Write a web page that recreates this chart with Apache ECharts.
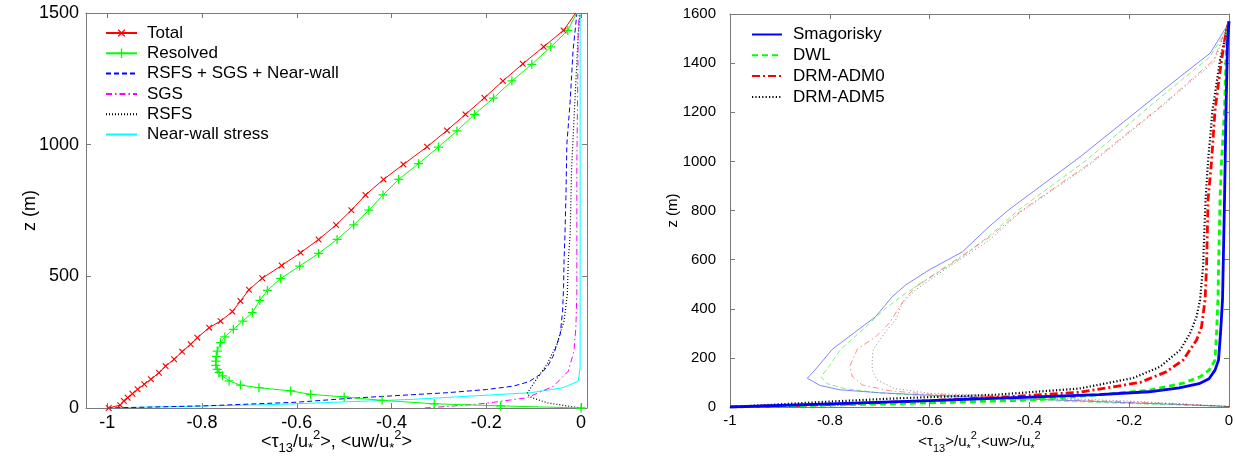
<!DOCTYPE html>
<html>
<head>
<meta charset="utf-8">
<script src="https://cdn.jsdelivr.net/npm/echarts@6/dist/echarts.min.js"></script>
<style>html,body{margin:0;padding:0;background:#fff}#c{width:1236px;height:456px}</style>
</head>
<body>
<div id="c"></div>
<script>
// ---------- LEFT PANEL DATA: [stress, z (m)] ----------
const leftTotal = [[-0.997,0],[-0.973,11],[-0.965,27],[-0.957,39],[-0.947,54],[-0.936,71],[-0.922,90],[-0.908,109],[-0.891,134],[-0.877,159],[-0.859,185],[-0.842,214],[-0.824,242],[-0.81,267],[-0.785,305],[-0.761,330],[-0.736,366],[-0.719,406],[-0.701,449],[-0.673,493],[-0.632,541],[-0.592,590],[-0.554,640],[-0.517,695],[-0.485,751],[-0.455,809],[-0.417,868],[-0.375,925],[-0.325,992],[-0.283,1054],[-0.244,1115],[-0.204,1178],[-0.165,1242],[-0.123,1307],[-0.079,1372],[-0.037,1434],[-0.011,1501]];
const leftResolved = [[0,0],[-0.17,8],[-0.31,16],[-0.42,29],[-0.50,42],[-0.571,52],[-0.613,65],[-0.68,77],[-0.719,87],[-0.743,103],[-0.757,122],[-0.764,135],[-0.768,147],[-0.771,162],[-0.771,178],[-0.770,196],[-0.768,216],[-0.761,248],[-0.752,270],[-0.734,299],[-0.714,330],[-0.694,362],[-0.678,409],[-0.662,447],[-0.634,492],[-0.594,539],[-0.554,587],[-0.515,640],[-0.480,695],[-0.448,751],[-0.418,809],[-0.385,868],[-0.343,928],[-0.301,991],[-0.262,1052],[-0.225,1115],[-0.185,1177],[-0.146,1242],[-0.104,1305],[-0.064,1371],[-0.028,1434],[-0.009,1501]];
const leftModelled = [[-1,0],[-0.797,8],[-0.6,22],[-0.487,37],[-0.381,48],[-0.283,58],[-0.2,70],[-0.143,83],[-0.11,100],[-0.086,128],[-0.07,160],[-0.059,197],[-0.044,281],[-0.039,368],[-0.037,457],[-0.036,558],[-0.034,660],[-0.032,800],[-0.030,1002],[-0.023,1166],[-0.017,1356],[-0.009,1496]];
const leftSGS = [[-0.33,0],[-0.266,8],[-0.2,18],[-0.114,39],[-0.058,83],[-0.027,140],[-0.015,216],[-0.011,305],[-0.009,432],[-0.009,912],[-0.006,1420],[-0.004,1500]];
const leftRSFS = [[0,0],[-0.03,8],[-0.072,20],[-0.105,40],[-0.114,55],[-0.097,102],[-0.072,166],[-0.051,242],[-0.036,330],[-0.029,432],[-0.027,558],[-0.023,660],[-0.02,912],[-0.013,1166],[-0.006,1420],[-0.002,1500]];
const leftNearWall = [[-1,0],[-0.634,14],[-0.354,33],[-0.107,58],[-0.038,77],[-0.006,102],[-0.002,153],[-0.002,1500]];
const leftXTicks = [-1,-0.8,-0.6,-0.4,-0.2,0];
const leftNames = ['Total','Resolved','RSFS + SGS + Near-wall','SGS','RSFS','Near-wall stress'];
const leftMarkerNames = ['Total','Resolved'];

// ---------- RIGHT PANEL DATA: [stress, z (m)] ----------
const rightNames = ['Smagorisky','DWL','DRM-ADM0','DRM-ADM5'];
// modelled (thick) profiles
const smagSGS = [[-1,0],[-0.8,13],[-0.6,26],[-0.4,40],[-0.26,50],[-0.16,62],[-0.1,78],[-0.06,95],[-0.04,115],[-0.028,150],[-0.021,191],[-0.017,300],[-0.013,436],[-0.011,639],[-0.009,843],[-0.006,1209],[-0.003,1481],[0,1570]];
const dwlSGS = [[-1,0],[-0.8,8],[-0.6,17],[-0.4,28],[-0.26,50],[-0.16,68],[-0.092,97],[-0.058,123],[-0.04,150],[-0.028,191],[-0.025,300],[-0.022,450],[-0.021,571],[-0.018,843],[-0.015,1000],[-0.009,1209],[-0.005,1481],[0,1570]];
const adm0SGS = [[-1,0],[-0.8,10],[-0.6,26],[-0.44,42],[-0.3,60],[-0.178,100],[-0.125,144],[-0.092,191],[-0.065,273],[-0.055,327],[-0.048,436],[-0.045,571],[-0.042,843],[-0.035,1000],[-0.028,1209],[-0.015,1412],[-0.005,1535],[0,1570]];
const adm5SGS = [[-1,0],[-0.8,22],[-0.668,35],[-0.467,50],[-0.3,75],[-0.192,118],[-0.138,164],[-0.098,232],[-0.078,300],[-0.065,368],[-0.058,436],[-0.052,571],[-0.047,843],[-0.042,1000],[-0.033,1209],[-0.018,1412],[-0.008,1500],[0,1570]];
// resolved (thin) profiles
const smagRes = [[0,2],[-0.1,10],[-0.2,17],[-0.3,25],[-0.4,32],[-0.5,40],[-0.6,48],[-0.7,58],[-0.78,70],[-0.82,88],[-0.845,117],[-0.83,150],[-0.795,235],[-0.748,307],[-0.708,368],[-0.675,449],[-0.648,497],[-0.601,558],[-0.534,632],[-0.481,734],[-0.442,802],[-0.298,1019],[-0.152,1257],[-0.098,1345],[-0.038,1440],[-0.005,1548],[0,1570]];
const dwlRes = [[0,2],[-0.1,8],[-0.2,14],[-0.3,21],[-0.4,28],[-0.5,36],[-0.6,45],[-0.7,57],[-0.77,75],[-0.805,95],[-0.818,122],[-0.80,170],[-0.778,235],[-0.735,313],[-0.688,402],[-0.648,463],[-0.601,524],[-0.534,612],[-0.481,696],[-0.422,802],[-0.285,1006],[-0.152,1236],[-0.038,1426],[-0.005,1535],[0,1570]];
const adm0Res = [[0,2],[-0.1,12],[-0.2,20],[-0.3,28],[-0.4,36],[-0.5,44],[-0.6,52],[-0.68,66],[-0.735,90],[-0.755,125],[-0.76,165],[-0.745,235],[-0.708,286],[-0.681,341],[-0.651,436],[-0.628,490],[-0.568,571],[-0.481,690],[-0.419,795],[-0.279,992],[-0.138,1222],[-0.031,1412],[0,1570]];
const adm5Res = [[0,2],[-0.1,14],[-0.2,24],[-0.3,32],[-0.4,40],[-0.5,48],[-0.6,56],[-0.67,75],[-0.705,110],[-0.715,150],[-0.715,190],[-0.713,235],[-0.688,307],[-0.668,354],[-0.655,422],[-0.628,477],[-0.568,562],[-0.481,678],[-0.42,790],[-0.28,985],[-0.14,1215],[-0.03,1405],[0,1565]];

const plusPath = 'path://M4.3,0H5.7V4.3H10V5.7H5.7V10H4.3V5.7H0V4.3H4.3Z';
const frame = '#7a7a7a';
const hiddenSymbol = { color: 'rgba(0,0,0,0)', borderWidth: 0, opacity: 0 };

function line(name, data, color, type, width, xi, yi, extra) {
  return Object.assign({
    name, type: 'line', data, xAxisIndex: xi, yAxisIndex: yi,
    showSymbol: false, symbol: 'none', smooth: false,
    lineStyle: { color, type, width }, itemStyle: { color },
    emphasis: { disabled: true }, silent: true, animation: false, clip: true
  }, extra || {});
}

const chart = echarts.init(document.getElementById('c'), null, { renderer: 'canvas' });

const tickCommon = { inside: true, length: 5, lineStyle: { color: frame } };
const lineCommon = { show: true, onZero: false, lineStyle: { color: frame, width: 1 } };
const plain = v => String(Math.round(v * 10) / 10);

const option = {
  animation: false,
  backgroundColor: '#fff',
  textStyle: { fontFamily: 'Liberation Sans, Arial, sans-serif', color: '#000' },
  grid: [
    { left: 86, top: 13, width: 501, height: 395, containLabel: false, outerBoundsMode: 'none' },
    { left: 730, top: 14, width: 499, height: 393, containLabel: false, outerBoundsMode: 'none' }
  ],
  xAxis: [
    { type: 'value', gridIndex: 0, position: 'bottom', min: -1.045, max: 0.0125,
      axisLine: lineCommon,
      axisTick: Object.assign({ customValues: leftXTicks }, tickCommon),
      axisLabel: { customValues: leftXTicks, fontSize: 18, color: '#000', margin: 6, formatter: plain },
      splitLine: { show: false },
      name: '<τ{sub|13}/u{sub|*}{sup|2}>, <uw/u{sub|*}{sup|2}>', nameLocation: 'middle', nameGap: 21, nameMoveOverlap: false,
      nameTextStyle: { fontSize: 18, color: '#000', lineHeight: 26,
        rich: { sub: { fontSize: 13, verticalAlign: 'bottom', lineHeight: 26 }, sup: { fontSize: 13, verticalAlign: 'top', lineHeight: 26 } } } },
    { type: 'value', gridIndex: 0, position: 'top', min: -1.045, max: 0.0125,
      axisLine: lineCommon,
      axisTick: Object.assign({ customValues: leftXTicks }, tickCommon),
      axisLabel: { show: false }, splitLine: { show: false } },
    { type: 'value', gridIndex: 1, position: 'bottom', min: -1, max: 0, interval: 0.2,
      axisLine: lineCommon, axisTick: tickCommon,
      axisLabel: { fontSize: 15, color: '#000', margin: 6, formatter: plain },
      splitLine: { show: false },
      name: '<τ{sub|13}>/u{sub|*}{sup|2},<uw>/u{sub|*}{sup|2}', nameLocation: 'middle', nameGap: 23, nameMoveOverlap: false,
      nameTextStyle: { fontSize: 15, color: '#000', lineHeight: 24,
        rich: { sub: { fontSize: 11, verticalAlign: 'bottom', lineHeight: 24 }, sup: { fontSize: 11, verticalAlign: 'top', lineHeight: 24 } } } },
    { type: 'value', gridIndex: 1, position: 'top', min: -1, max: 0, interval: 0.2,
      axisLine: lineCommon, axisTick: tickCommon,
      axisLabel: { show: false }, splitLine: { show: false } }
  ],
  yAxis: [
    { type: 'value', gridIndex: 0, position: 'left', min: 0, max: 1500, interval: 500,
      axisLine: lineCommon, axisTick: tickCommon,
      axisLabel: { fontSize: 18, color: '#000', margin: 7, formatter: v => String(v) }, splitLine: { show: false },
      name: 'z (m)', nameLocation: 'middle', nameGap: 47, nameRotate: 90, nameMoveOverlap: false,
      nameTextStyle: { fontSize: 18, color: '#000' } },
    { type: 'value', gridIndex: 0, position: 'right', min: 0, max: 1500, interval: 500,
      axisLine: lineCommon, axisTick: tickCommon,
      axisLabel: { show: false }, splitLine: { show: false } },
    { type: 'value', gridIndex: 1, position: 'left', min: 0, max: 1600, interval: 200,
      axisLine: lineCommon, axisTick: tickCommon,
      axisLabel: { fontSize: 15, color: '#000', margin: 14, formatter: v => String(v) }, splitLine: { show: false },
      name: 'z (m)', nameLocation: 'middle', nameGap: 50, nameRotate: 90, nameMoveOverlap: false,
      nameTextStyle: { fontSize: 15, color: '#000' } },
    { type: 'value', gridIndex: 1, position: 'right', min: 0, max: 1600, interval: 200,
      axisLine: lineCommon, axisTick: tickCommon,
      axisLabel: { show: false }, splitLine: { show: false } }
  ],
  legend: [
    { data: leftNames.map(n => leftMarkerNames.includes(n) ? { name: n } : { name: n, itemStyle: hiddenSymbol }),
      orient: 'vertical', left: 100, top: 19.5, itemWidth: 31, itemHeight: 12, itemGap: 3.3,
      textStyle: { fontSize: 17, color: '#000', lineHeight: 17, padding: [0, 0, 0, 5] },
      selectedMode: false },
    { data: rightNames.map(n => ({ name: n, itemStyle: hiddenSymbol })),
      orient: 'vertical', left: 746, top: 21, itemWidth: 30, itemHeight: 12, itemGap: 3.8,
      textStyle: { fontSize: 17, color: '#000', lineHeight: 17, padding: [0, 0, 0, 6] },
      selectedMode: false }
  ],
  series: [
    line('Near-wall stress', leftNearWall, '#00ffff', 'solid', 1, 0, 0),
    line('RSFS', leftRSFS, '#000000', [1, 2], 1.2, 0, 0),
    line('SGS', leftSGS, '#ff00ff', [6, 3, 1.5, 3], 1, 0, 0),
    line('RSFS + SGS + Near-wall', leftModelled, '#0000ff', [5, 3], 1, 0, 0),
    line('Resolved', leftResolved, '#00ff00', 'solid', 1, 0, 0,
      { showSymbol: true, symbol: plusPath, symbolSize: 9 }),
    line('Total', leftTotal, '#ff0000', 'solid', 1, 0, 0,
      { showSymbol: true, symbol: plusPath, symbolSize: 8, symbolRotate: 45 }),

    line('Smagorisky (resolved)', smagRes, '#0000ff', 'solid', 1, 2, 2, { lineStyle: { color: '#0000ff', width: 0.9, opacity: 0.55 } }),
    line('DWL (resolved)', dwlRes, '#00ff00', 'dashed', 1, 2, 2, { lineStyle: { color: '#00dd00', width: 0.9, opacity: 0.55, type: [5, 3] } }),
    line('DRM-ADM0 (resolved)', adm0Res, '#ff0000', 'dashed', 1, 2, 2, { lineStyle: { color: '#ff0000', width: 0.9, opacity: 0.5, type: [6, 3, 1.5, 3] } }),
    line('DRM-ADM5 (resolved)', adm5Res, '#000000', 'dotted', 1, 2, 2, { lineStyle: { color: '#000000', width: 0.9, opacity: 0.5, type: [1, 2.5] } }),

    line('DRM-ADM5', adm5SGS, '#000000', [1.2, 2.2], 2.2, 2, 2),
    line('DRM-ADM0', adm0SGS, '#ff0000', [8, 3, 2, 3], 2.8, 2, 2),
    line('DWL', dwlSGS, '#00ff00', [6, 4], 2.8, 2, 2),
    line('Smagorisky', smagSGS, '#0000ff', 'solid', 2.8, 2, 2)
  ]
};
chart.setOption(option);
</script>
</body>
</html>
